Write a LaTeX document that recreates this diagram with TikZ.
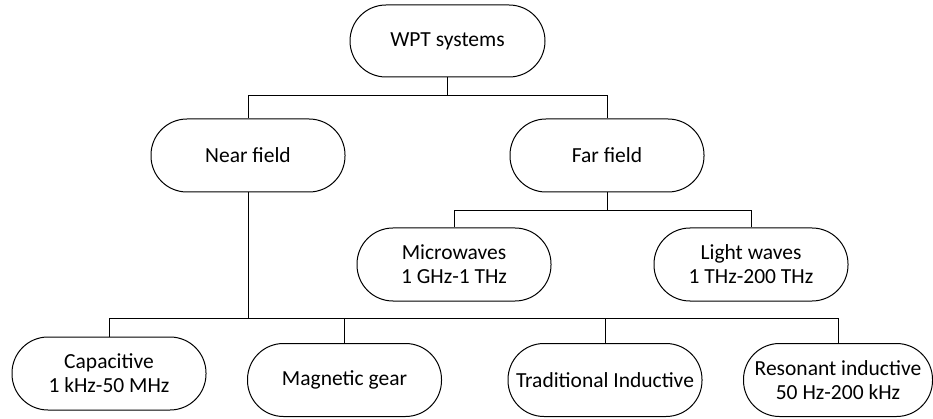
\documentclass[tikz,border=0pt]{standalone}
\usepackage{fontspec}
\setmainfont{Carlito}
\usepackage{tikz}
\usetikzlibrary{calc,positioning}
\tikzstyle{pill} = [rectangle, draw, line width=1pt, rounded corners=36pt, align=center,
minimum width=194pt, minimum height=73pt, inner sep=0pt, font=\fontsize{21.5}{24}\selectfont]
\tikzstyle{line} = [draw, line width=1pt]

\begin{document}
\begin{tikzpicture}[x=1pt, y=-1pt]
\useasboundingbox (0,0) rectangle (933,419);

\node [pill, minimum width=195pt, minimum height=72pt] (wpt) at (447.5,41) {WPT systems};
\node [pill] (near) at (248,155.5) {Near field};
\node [pill] (far) at (607,155.5) {Far field};
\node [pill] (micro) at (454,264.5) {Microwaves\\1 GHz-1 THz};
\node [pill] (light) at (751,264.5) {Light waves\\1 THz-200 THz};
\node [pill] (cap) at (109,373.5) {Capacitive\\1 kHz-50 MHz};
\node [pill] (gear) at (344.5,380) {Magnetic gear};
\node [pill] (trad) at (605,380) {Traditional Inductive};
\node [pill, minimum width=189pt] (reson) at (838,380) {Resonant inductive\\50 Hz-200 kHz};

\coordinate (j1) at (447.5,96);
\coordinate (j2) at (607,211);
\coordinate (j3) at (248,318);

\path [line] (wpt) -- (j1);
\path [line] (j1) -| (near);
\path [line] (j1) -| (far);
\path [line] (far) -- (j2);
\path [line] (j2) -| (micro);
\path [line] (j2) -| (light);
\path [line] (near) -- (j3);
\path [line] (j3) -| (cap);
\path [line] (j3) -| (gear);
\path [line] (j3) -| (trad);
\path [line] (j3) -| (reson);
\end{tikzpicture}
\end{document}
